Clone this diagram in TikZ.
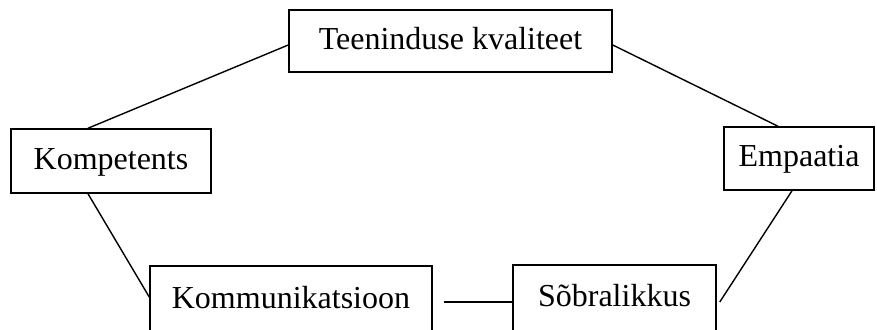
\documentclass[tikz,border=0pt]{standalone}
\usepackage{fontspec}
\setmainfont{Liberation Serif}
\begin{document}
\begin{tikzpicture}[x=1pt,y=-1pt,
  box/.style={draw=black, line width=1.5pt, rectangle, inner sep=0pt, font=\fontsize{32}{38}\selectfont, text height=22pt, text depth=6pt},
  link/.style={draw=black, line width=1.4pt}]
\useasboundingbox (0,0) rectangle (877,329);
\node[box, minimum width=323pt, minimum height=62pt] (tk) at (450.5,41) {Teeninduse kvaliteet};
\node[box, minimum width=200pt, minimum height=64pt] (komp) at (111,161) {Kompetents};
\node[box, minimum width=150pt, minimum height=63pt] (emp) at (799,158.5) {Empaatia};
\node[box, minimum width=282pt, minimum height=68pt] (kom) at (291,300) {Kommunikatsioon};
\node[box, minimum width=203pt, minimum height=66pt] (sob) at (614.5,298) {Sõbralikkus};
\draw[link] ([xshift=-23pt]komp.north) -- ([yshift=-4pt]tk.west);
\draw[link] ([yshift=-4pt]tk.east) -- ([xshift=-21pt]emp.north);
\draw[link] ([xshift=-23pt]komp.south) -- ([yshift=3pt]kom.west);
\draw[link] ([xshift=-7pt]emp.south) -- ([xshift=3pt,yshift=-4pt]sob.east);
\draw[link] ([xshift=11pt,yshift=-2pt]kom.east) -- ([yshift=-4pt]sob.west);
\end{tikzpicture}
\end{document}
